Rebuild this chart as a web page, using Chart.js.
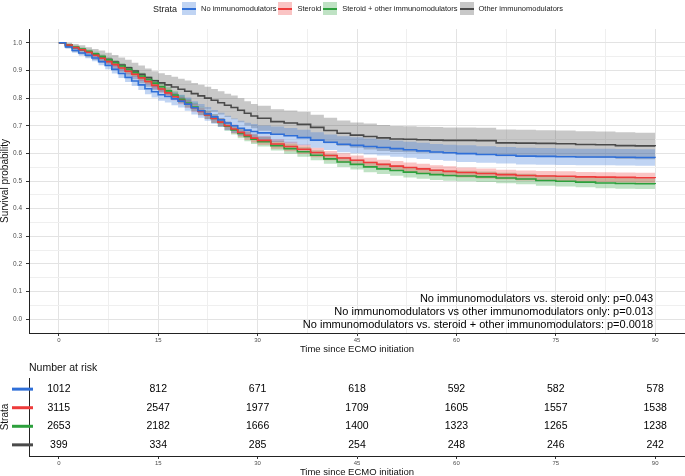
<!DOCTYPE html>
<html>
<head>
<meta charset="utf-8">
<title>Survival by immunomodulator strata</title>
<script src="https://cdn.jsdelivr.net/npm/chart.js@4.4.1/dist/chart.umd.min.js"></script>
<style>
  body { margin: 0; background: #fff; font-family: "Liberation Sans", Arial, Helvetica, sans-serif; }
  #wrap { position: relative; width: 685px; height: 476px; overflow: hidden; }
  #km { position: absolute; left: 0; top: 0; }
  #risk { position: absolute; left: 0; top: 358px; }
  #legend { position: absolute; left: 153px; top: 1px; height: 15px; display: flex; align-items: center; white-space: nowrap; color: #1a1a1a; }
  #legend .ttl { font-size: 9px; margin-right: 5px; }
  #legend .key { position: relative; width: 14px; height: 13px; margin-right: 5px; }
  #legend .key i { position: absolute; left: 0; right: 0; top: 5.5px; height: 2px; }
  #legend .lbl { font-size: 7.5px; margin-right: 2px; }
</style>
</head>
<body>
<div id="wrap">
  <canvas id="km" width="685" height="358"></canvas>
  <canvas id="risk" width="685" height="118"></canvas>
  <div id="legend"><span class="ttl">Strata</span></div>
</div>
<script>
// ---- data ----
const strata = ['No immunomodulators', 'Steroid', 'Steroid + other immunomodulators', 'Other immunomodulators'];
const lineColors = ['#2f6fd8', '#ee3b3b', '#2ca03c', '#4a4a4a'];
const bandColors = ['rgba(47,111,216,0.3)', 'rgba(238,59,59,0.3)', 'rgba(44,160,60,0.3)', 'rgba(74,74,74,0.3)'];

// days since ECMO initiation
const times = [0, 1, 2, 3, 4, 5, 6, 7, 8, 9, 10, 11, 12, 13, 14, 15, 16, 17, 18, 19, 20,
  21, 22, 23, 24, 25, 26, 27, 28, 29, 30, 32, 34, 36, 38, 40, 42, 44, 46, 48, 50,
  52, 54, 56, 58, 60, 63, 66, 69, 72, 75, 78, 81, 84, 87, 90];

const survNone = [1.000, 0.985, 0.972, 0.963, 0.955, 0.945, 0.932, 0.918, 0.904, 0.889, 0.875,
  0.862, 0.848, 0.834, 0.823, 0.812, 0.806, 0.797, 0.789, 0.778, 0.765, 0.754, 0.743, 0.732,
  0.721, 0.710, 0.700, 0.691, 0.684, 0.679, 0.674, 0.669, 0.664, 0.657, 0.648, 0.640, 0.633,
  0.629, 0.625, 0.621, 0.617, 0.613, 0.609, 0.605, 0.602, 0.599, 0.596, 0.593, 0.590, 0.589,
  0.588, 0.587, 0.587, 0.586, 0.585, 0.584];
const survSteroid = [1.000, 0.992, 0.983, 0.975, 0.966, 0.955, 0.944, 0.932, 0.921, 0.909, 0.897,
  0.886, 0.873, 0.860, 0.846, 0.833, 0.819, 0.805, 0.791, 0.778, 0.765, 0.752, 0.739, 0.726,
  0.713, 0.700, 0.688, 0.676, 0.665, 0.655, 0.647, 0.634, 0.625, 0.615, 0.603, 0.592, 0.583,
  0.575, 0.567, 0.560, 0.554, 0.549, 0.544, 0.539, 0.535, 0.531, 0.527, 0.523, 0.520, 0.518,
  0.517, 0.515, 0.514, 0.513, 0.512, 0.511];
const survBoth = [1.000, 0.993, 0.985, 0.977, 0.969, 0.960, 0.950, 0.939, 0.928, 0.916, 0.904,
  0.892, 0.880, 0.867, 0.854, 0.841, 0.826, 0.811, 0.796, 0.782, 0.768, 0.754, 0.740, 0.726,
  0.712, 0.698, 0.685, 0.672, 0.661, 0.651, 0.642, 0.628, 0.617, 0.606, 0.593, 0.580, 0.569,
  0.560, 0.551, 0.544, 0.538, 0.532, 0.527, 0.523, 0.520, 0.518, 0.515, 0.511, 0.507, 0.502,
  0.499, 0.496, 0.493, 0.491, 0.490, 0.489];
const survOther = [1.000, 0.990, 0.982, 0.975, 0.966, 0.958, 0.950, 0.940, 0.930, 0.920, 0.910,
  0.898, 0.886, 0.874, 0.863, 0.855, 0.848, 0.840, 0.832, 0.825, 0.816, 0.808, 0.800, 0.792,
  0.783, 0.774, 0.766, 0.756, 0.745, 0.735, 0.727, 0.715, 0.710, 0.705, 0.694, 0.683, 0.673,
  0.666, 0.661, 0.656, 0.652, 0.651, 0.649, 0.648, 0.647, 0.647, 0.646, 0.638, 0.637, 0.636,
  0.635, 0.632, 0.631, 0.628, 0.627, 0.626];

// half width of the 95% confidence band
const ciNone = [0, 0.006, 0.008, 0.010, 0.011, 0.012, 0.013, 0.014, 0.015, 0.016, 0.017,
  0.018, 0.019, 0.020, 0.021, 0.022, 0.022, 0.023, 0.023, 0.024, 0.024, 0.025, 0.025, 0.025,
  0.026, 0.026, 0.026, 0.027, 0.027, 0.027, 0.027, 0.028, 0.028, 0.028, 0.028, 0.028, 0.029,
  0.029, 0.029, 0.029, 0.029, 0.029, 0.029, 0.029, 0.029, 0.030, 0.030, 0.030, 0.030, 0.030,
  0.030, 0.030, 0.030, 0.030, 0.030, 0.030];
const ciSteroid = [0, 0.003, 0.004, 0.005, 0.006, 0.007, 0.007, 0.008, 0.009, 0.009, 0.010,
  0.010, 0.011, 0.011, 0.012, 0.012, 0.012, 0.013, 0.013, 0.014, 0.014, 0.014, 0.015, 0.015,
  0.015, 0.015, 0.016, 0.016, 0.016, 0.016, 0.016, 0.017, 0.017, 0.017, 0.017, 0.017, 0.017,
  0.017, 0.017, 0.017, 0.018, 0.018, 0.018, 0.018, 0.018, 0.018, 0.018, 0.018, 0.018, 0.018,
  0.018, 0.018, 0.018, 0.018, 0.018, 0.018];
const ciBoth = [0, 0.004, 0.005, 0.006, 0.007, 0.008, 0.008, 0.009, 0.010, 0.010, 0.011,
  0.011, 0.012, 0.012, 0.013, 0.013, 0.013, 0.014, 0.014, 0.015, 0.015, 0.015, 0.016, 0.016,
  0.016, 0.016, 0.017, 0.017, 0.017, 0.017, 0.017, 0.018, 0.018, 0.018, 0.018, 0.018, 0.018,
  0.018, 0.019, 0.019, 0.019, 0.019, 0.019, 0.019, 0.019, 0.019, 0.019, 0.019, 0.019, 0.019,
  0.019, 0.019, 0.019, 0.019, 0.019, 0.019];
const ciOther = [0, 0.010, 0.014, 0.016, 0.018, 0.020, 0.022, 0.024, 0.026, 0.027, 0.029,
  0.030, 0.032, 0.033, 0.034, 0.035, 0.036, 0.037, 0.038, 0.039, 0.039, 0.040, 0.041, 0.041,
  0.042, 0.042, 0.043, 0.043, 0.044, 0.044, 0.045, 0.045, 0.045, 0.046, 0.046, 0.046, 0.046,
  0.046, 0.047, 0.047, 0.047, 0.047, 0.047, 0.047, 0.047, 0.047, 0.047, 0.048, 0.048, 0.048,
  0.048, 0.048, 0.048, 0.048, 0.048, 0.048];

const survival = [survNone, survSteroid, survBoth, survOther];
const ciHalf = [ciNone, ciSteroid, ciBoth, ciOther];

// number at risk table
const riskTimes = [0, 15, 30, 45, 60, 75, 90];
const riskNone = [1012, 812, 671, 618, 592, 582, 578];
const riskSteroid = [3115, 2547, 1977, 1709, 1605, 1557, 1538];
const riskBoth = [2653, 2182, 1666, 1400, 1323, 1265, 1238];
const riskOther = [399, 334, 285, 254, 248, 246, 242];
const riskCounts = [riskNone, riskSteroid, riskBoth, riskOther];

// axis ticks (grid incl. minor lines)
const xTicks = [0, 7.5, 15, 22.5, 30, 37.5, 45, 52.5, 60, 67.5, 75, 82.5, 90];
const yTicks = [0, 0.05, 0.1, 0.15, 0.2, 0.25, 0.3, 0.35, 0.4, 0.45, 0.5, 0.55, 0.6, 0.65,
  0.7, 0.75, 0.8, 0.85, 0.9, 0.95, 1.0];

const pValues = [
  'No immunomodulators vs. steroid only: p=0.043',
  'No immunomodulators vs other immunomodulators only: p=0.013',
  'No immunomodulators vs. steroid + other immunomodulators: p=0.0018'
];

// ---- chart ----
Chart.defaults.font.family = '"Liberation Sans", Arial, Helvetica, sans-serif';
Chart.defaults.color = '#1a1a1a';

const isMajorX = v => Math.round(v * 10) % 150 === 0;
const isMajorY = v => Math.round(v * 100) % 10 === 0;

// legend
const legendEl = document.getElementById('legend');
strata.forEach((name, k) => {
  const key = document.createElement('span');
  key.className = 'key';
  key.style.background = bandColors[k];
  key.innerHTML = `<i style="background:${lineColors[k]}"></i>`;
  const lbl = document.createElement('span');
  lbl.className = 'lbl';
  lbl.textContent = name;
  legendEl.appendChild(key);
  legendEl.appendChild(lbl);
});

const lineSets = [];
const bandSets = [];
survival.forEach((surv, k) => {
  lineSets.push({
    label: strata[k],
    data: times.map((t, i) => ({ x: t, y: surv[i] })),
    borderColor: lineColors[k],
    borderWidth: 1.6,
    pointRadius: 0,
    stepped: true,
    fill: false,
    order: 1
  });
  bandSets.push({
    data: times.map((t, i) => ({ x: t, y: surv[i] + ciHalf[k][i] })),
    borderWidth: 0,
    pointRadius: 0,
    stepped: true,
    fill: false,
    order: 2
  });
  bandSets.push({
    data: times.map((t, i) => ({ x: t, y: surv[i] - ciHalf[k][i] })),
    borderWidth: 0,
    pointRadius: 0,
    stepped: true,
    backgroundColor: bandColors[k],
    fill: '-1',
    order: 2
  });
});

const pValuePlugin = {
  id: 'pvalues',
  afterDraw(chart) {
    const { ctx, chartArea, scales } = chart;
    const x = scales.x.getPixelForValue(90) - 2;
    ctx.save();
    ctx.font = '11px "Liberation Sans", Arial, sans-serif';
    ctx.fillStyle = '#000';
    ctx.textAlign = 'right';
    ctx.textBaseline = 'middle';
    pValues.forEach((txt, i) => ctx.fillText(txt, x, chartArea.bottom - 34 + i * 13));
    ctx.restore();
  }
};

new Chart(document.getElementById('km'), {
  type: 'line',
  data: { datasets: lineSets.concat(bandSets) },
  options: {
    responsive: false,
    animation: false,
    devicePixelRatio: 1,
    layout: { padding: { top: 29, right: 0, bottom: 0, left: 0 } },
    plugins: { legend: { display: false }, tooltip: { enabled: false } },
    scales: {
      x: {
        type: 'linear',
        min: -4.5,
        max: 94.5,
        afterBuildTicks: s => { s.ticks = xTicks.map(v => ({ value: v })); },
        afterFit: s => { s.height = 25; },
        grid: {
          color: c => isMajorX(c.tick.value) ? '#e3e3e3' : '#efefef',
          lineWidth: 1,
          tickLength: 3,
          tickColor: c => isMajorX(c.tick.value) ? '#333' : 'rgba(0,0,0,0)'
        },
        border: { display: true, color: '#222', width: 1 },
        ticks: {
          autoSkip: false,
          maxRotation: 0,
          padding: 1,
          font: { size: 6 },
          color: '#4d4d4d',
          callback: v => isMajorX(v) ? String(v) : ''
        },
        title: {
          display: true,
          text: 'Time since ECMO initiation',
          font: { size: 9.5, lineHeight: 1 },
          color: '#111',
          padding: { top: 0, bottom: 4 }
        }
      },
      y: {
        type: 'linear',
        min: -0.05,
        max: 1.05,
        afterBuildTicks: s => { s.ticks = yTicks.map(v => ({ value: v })); },
        afterFit: s => { s.width = 29; },
        grid: {
          color: c => isMajorY(c.tick.value) ? '#e3e3e3' : '#efefef',
          lineWidth: 1,
          tickLength: 3,
          tickColor: c => isMajorY(c.tick.value) ? '#333' : 'rgba(0,0,0,0)'
        },
        border: { display: true, color: '#222', width: 1 },
        ticks: {
          autoSkip: false,
          padding: 4,
          font: { size: 6.5 },
          color: '#4d4d4d',
          callback: v => isMajorY(v) ? v.toFixed(1) : ''
        },
        title: {
          display: true,
          text: 'Survival probability',
          font: { size: 10, lineHeight: 1 },
          color: '#111',
          padding: 0
        }
      }
    }
  },
  plugins: [pValuePlugin]
});

// ---- risk table ----
const riskPlugin = {
  id: 'risktable',
  afterDraw(chart) {
    const { ctx, chartArea, scales } = chart;
    ctx.save();
    // title
    ctx.font = '10.5px "Liberation Sans", Arial, sans-serif';
    ctx.fillStyle = '#111';
    ctx.textAlign = 'left';
    ctx.textBaseline = 'middle';
    ctx.fillText('Number at risk', chartArea.left, 10);
    // strata markers on the y axis
    riskCounts.forEach((row, k) => {
      const y = scales.y.getPixelForValue(k + 1);
      ctx.strokeStyle = lineColors[k];
      ctx.lineWidth = 3;
      ctx.beginPath();
      ctx.moveTo(12, y);
      ctx.lineTo(chartArea.left + 4, y);
      ctx.stroke();
    });
    // counts
    ctx.fillStyle = '#000';
    ctx.textAlign = 'center';
    chart.data.datasets.forEach((ds, k) => {
      chart.getDatasetMeta(k).data.forEach((pt, i) => {
        ctx.fillText(String(riskCounts[k][i]), pt.x, pt.y);
      });
    });
    ctx.restore();
  }
};

new Chart(document.getElementById('risk'), {
  type: 'scatter',
  data: {
    datasets: riskCounts.map((row, k) => ({
      label: strata[k],
      data: riskTimes.map(t => ({ x: t, y: k + 1 })),
      pointRadius: 0,
      showLine: false
    }))
  },
  options: {
    responsive: false,
    animation: false,
    devicePixelRatio: 1,
    layout: { padding: { top: 20, right: 0, bottom: 0, left: 0 } },
    plugins: { legend: { display: false }, tooltip: { enabled: false } },
    scales: {
      x: {
        type: 'linear',
        min: -4.5,
        max: 94.5,
        afterBuildTicks: s => { s.ticks = riskTimes.map(v => ({ value: v })); },
        afterFit: s => { s.height = 20; },
        grid: { drawOnChartArea: false, tickLength: 3, tickColor: '#333' },
        border: { display: true, color: '#222', width: 1 },
        ticks: { autoSkip: false, maxRotation: 0, padding: 1, font: { size: 6 }, color: '#4d4d4d' },
        title: {
          display: true,
          text: 'Time since ECMO initiation',
          font: { size: 9.5, lineHeight: 1 },
          color: '#111',
          padding: { top: 0, bottom: -1.5 }
        }
      },
      y: {
        type: 'linear',
        reverse: true,
        min: 0.4,
        max: 4.6,
        afterBuildTicks: s => { s.ticks = [1, 2, 3, 4].map(v => ({ value: v })); },
        afterFit: s => { s.width = 29; },
        grid: { drawOnChartArea: false, drawTicks: false },
        border: { display: true, color: '#222', width: 1 },
        ticks: { display: false },
        title: {
          display: true,
          text: 'Strata',
          font: { size: 10, lineHeight: 1 },
          color: '#111',
          padding: 0
        }
      }
    }
  },
  plugins: [riskPlugin]
});
</script>
</body>
</html>
